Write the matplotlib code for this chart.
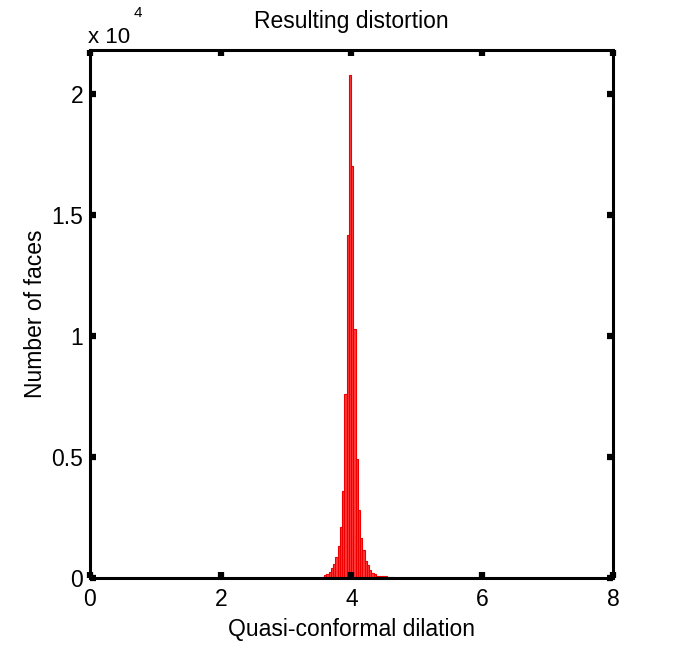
import numpy as np
import matplotlib
matplotlib.use('Agg')
import matplotlib.pyplot as plt

plt.rcParams['font.family'] = ['Liberation Sans', 'DejaVu Sans']

# histogram (bin left edge start, width, counts)
bin_start = 3.547
bin_width = 0.0344
counts = [40, 120, 165, 250, 410, 580, 870, 1320, 2100, 3600, 7600, 14150,
          20750, 17030, 10300, 4900, 2800, 1650, 1150, 700, 540, 350, 220,
          160, 100, 80, 80, 80, 80, 60, 40, 40]
x_ticks = [0, 2, 4, 6, 8]
y_ticks = [0, 5000, 10000, 15000, 20000]
y_tick_labels = ['0', '0.5', '1', '1.5', '2']

fig = plt.figure(figsize=(6.79, 6.51), dpi=100)
ax = fig.add_axes([0.1325, 0.1121, 0.7703, 0.8111])

edges = bin_start + bin_width * np.arange(len(counts))
ax.bar(edges, counts, width=bin_width, align='edge',
       facecolor='#ff3a3a', edgecolor='#ee0000', linewidth=0.8)

ax.set_xlim(0, 8)
ax.set_ylim(0, 21800)
ax.set_xticks(x_ticks)
ax.set_yticks(y_ticks)
ax.set_yticklabels(y_tick_labels)

for s in ax.spines.values():
    s.set_linewidth(2.2)
ax.tick_params(direction='in', length=4, width=4.5, labelsize=16.5,
               top=True, right=True, pad=5)
ax.tick_params(axis='x', pad=7)

ax.set_xlabel('Quasi-conformal dilation', fontsize=16.5, labelpad=5)
ax.set_ylabel('Number of faces', fontsize=16.5, labelpad=3)
ax.set_title('Resulting distortion', fontsize=16.5, pad=16)

ax.text(-0.003, 1.004, 'x 10', transform=ax.transAxes, fontsize=16,
        ha='left', va='bottom')
ax.text(0.083, 1.056, '4', transform=ax.transAxes, fontsize=11,
        ha='left', va='bottom')

fig.savefig('out.png', dpi=100, facecolor='white')
